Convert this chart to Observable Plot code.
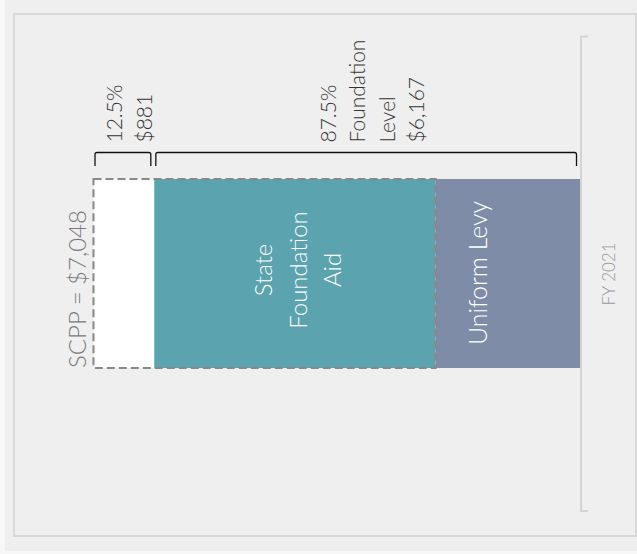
<!DOCTYPE html>
<html>
<head>
<meta charset="utf-8">
<script src="https://cdn.jsdelivr.net/npm/d3@7"></script>
<script src="https://cdn.jsdelivr.net/npm/@observablehq/plot@0.6"></script>
<style>
  html, body { margin: 0; padding: 0; background: #f7f7f7; }
  #bg { position: absolute; left: 5px; top: 0; width: 632px; height: 551px; background: #efefef; }
  #frame { position: absolute; left: 13px; top: 13px; width: 620px; height: 520px; border: 2px solid #d9d9d9; }
  #chart { position: absolute; left: 0; top: 0; }
  svg text { font-weight: 300; }
</style>
</head>
<body>
<div id="bg"></div>
<div id="frame"></div>
<div id="chart"></div>
<script>
// ---- data ----
const year = ["FY 2021"];
const segments = ["SCPP remainder", "State Foundation Aid", "Uniform Levy"];
const segmentValues = [881, 4076, 2091];
const segmentColors = ["#ffffff", "#5ba3ae", "#7e8ca8"];
const segmentLabels = ["", "State\nFoundation\nAid", "Uniform Levy"];
const totalLabel = "SCPP = $7,048";
const bracketLabels = ["12.5%\n$881", "87.5%\nFoundation\nLevel\n$6,167"];
const bracketSpans = [[0, 881], [881, 7048]];

// ---- derived table ----
const ends = d3.cumsum(segmentValues);
const total = ends[ends.length - 1];
const rows = segments.map((s, i) => ({
  seg: s, year: year[0], x1: i ? ends[i - 1] : 0, x2: ends[i],
  color: segmentColors[i], label: segmentLabels[i]
}));
const brackets = bracketLabels.map((l, i) => ({
  label: l, year: year[0], x1: bracketSpans[i][0], x2: bracketSpans[i][1]
}));
const dashedEnd = ends[1];

const font = "Lato, 'Open Sans', sans-serif";

const bracketRender = (index, scales, values, dims, context) => {
  const g = d3.create("svg:g");
  for (const i of index) {
    const a = values.x1[i] + 1.5, b = values.x2[i] - 3.5, y = values.y[i];
    const lo = y - 13, hi = y - 26.5, r = 2;
    g.append("path")
      .attr("d", `M${a},${lo}V${hi + r}Q${a},${hi} ${a + r},${hi}H${b - r}Q${b},${hi} ${b},${hi + r}V${lo}`)
      .attr("fill", "none").attr("stroke", "#111").attr("stroke-width", 1.3);
  }
  return g.node();
};

const axisRender = (index, scales, values, dims, context) => {
  const x = scales.x(total) + 1;
  const top = dims.marginTop + 0.5, bottom = dims.height - dims.marginBottom;
  return d3.create("svg:path")
    .attr("d", `M${x + 7},${top}H${x}V${bottom}H${x + 7}`)
    .attr("fill", "none").attr("stroke", "#d4d4d4").attr("stroke-width", 2)
    .node();
};

const chart = Plot.plot({
  width: 637,
  height: 554,
  marginLeft: 93.5,
  marginRight: 57,
  marginTop: 36,
  marginBottom: 43,
  style: { background: "transparent", fontFamily: font, overflow: "visible" },
  x: { domain: [0, total], axis: null },
  y: { domain: year, padding: 0.43, axis: null },
  marks: [
    Plot.barX(rows, { x1: "x1", x2: "x2", y: "year", fill: "color" }),
    Plot.barX([{ year: year[0], x1: 0, x2: dashedEnd }], {
      x1: "x1", x2: "x2", y: "year", fill: "none",
      stroke: "#888", strokeWidth: 2, strokeDasharray: "8,4"
    }),
    Plot.barX(brackets, { x1: "x1", x2: "x2", y: "year", render: bracketRender }),
    Plot.text(brackets, {
      x: d => (d.x1 + d.x2) / 2, y: "year", text: "label",
      rotate: -90, textAnchor: "start", lineAnchor: "middle", lineHeight: 1.4,
      dx: 3, dy: -131.5, fontSize: 21, fill: "#333"
    }),
    Plot.text([rows[1]], {
      x: d => (d.x1 + d.x2) / 2, y: "year", text: "label",
      rotate: -90, lineAnchor: "middle", lineHeight: 1.45, dy: -4,
      fontSize: 24, fill: "#ffffff"
    }),
    Plot.text([rows[2]], {
      x: d => (d.x1 + d.x2) / 2, y: "year", text: "label",
      rotate: -90, lineAnchor: "middle", dx: -29, dy: -1,
      fontSize: 25, fill: "#ffffff"
    }),
    Plot.text([{ year: year[0], x: 0, label: totalLabel }], {
      x: "x", y: "year", text: "label",
      rotate: -90, textAnchor: "start", lineAnchor: "middle",
      dx: -16, dy: 94, fontSize: 24, fill: "#7a7a7a"
    }),
    Plot.ruleX([total], { render: axisRender }),
    Plot.axisY({
      anchor: "right", tickSize: 0, tickPadding: 34, tickRotate: -90,
      label: null, fontSize: 17, color: "#999"
    })
  ]
});
document.getElementById("chart").appendChild(chart);
</script>
</body>
</html>
